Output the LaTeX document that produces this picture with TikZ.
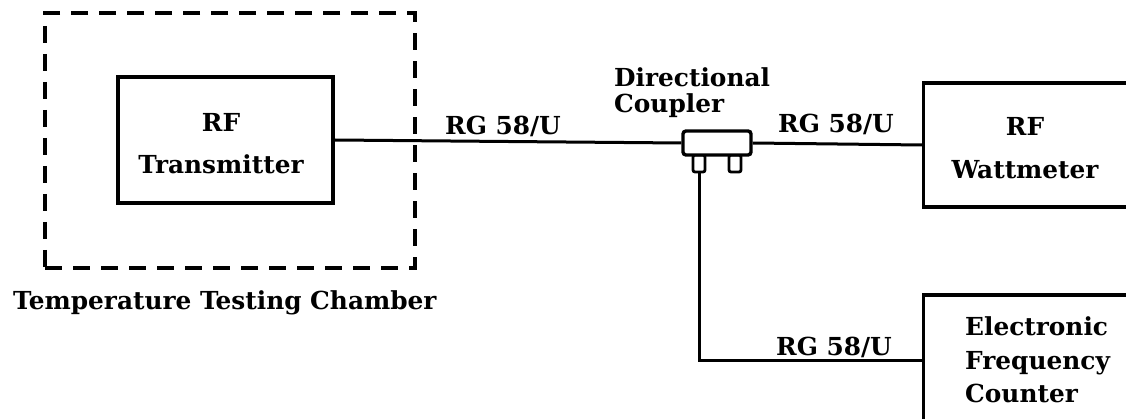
\documentclass[tikz,border=0pt]{standalone}
\usepackage{fontspec}
\setmainfont{DejaVu Serif}
\begin{document}
\begin{tikzpicture}[x=1pt,y=-1pt,
  box/.style={draw, line width=3.4pt, inner sep=0pt},
  wire/.style={line width=3pt},
  chamber/.style={draw, line width=3.2pt, dash pattern=on 17pt off 11pt},
  txt/.style={font=\fontsize{24.8}{28}\selectfont\bfseries, inner sep=0pt},
]
\useasboundingbox (0,0) rectangle (1126,419);
\clip (0,0) rectangle (1126,419);
% chamber
\node[chamber, minimum width=370pt, minimum height=255pt, inner sep=0pt] (ch) at (230,140.5) {};
\node[txt, anchor=base west] (chl) at (13,309) {Temperature Testing Chamber};
% transmitter
\node[box, minimum width=215pt, minimum height=126pt] (tx) at (225.5,140) {};
\node[txt, align=center, font=\fontsize{24.8}{42}\selectfont\bfseries] (txl) at (221,144) {RF\\Transmitter};
% coupler
\node[box, line width=2.8pt, fill=white, minimum width=12pt, minimum height=17pt, rounded corners=2pt] (legL) at (699,163.5) {};
\node[box, line width=2.8pt, fill=white, minimum width=12pt, minimum height=17pt, rounded corners=2pt] (legR) at (735,163.5) {};
\node[box, fill=white, minimum width=68pt, minimum height=24pt, rounded corners=3pt] (cp) at (717,143) {};
\node[txt, align=left, anchor=north west, font=\fontsize{24.8}{26}\selectfont\bfseries] (cpl) at (614,67) {Directional\\Coupler};
% wattmeter
\node[box, minimum width=220pt, minimum height=124pt] (wm) at (1033.5,145) {};
\node[txt, align=center, font=\fontsize{24.8}{43}\selectfont\bfseries] (wml) at (1025,148) {RF\\Wattmeter};
% frequency counter
\node[box, minimum width=220pt, minimum height=130pt] (fc) at (1033.5,360) {};
\node[txt, align=left, anchor=west, font=\fontsize{24.8}{33.5}\selectfont\bfseries] (fcl) at (965,360) {Electronic\\Frequency\\Counter};
% wires
\draw[wire] (tx.east) -- (cp.west);
\draw[wire] (cp.east) -- (wm.west);
\draw[wire] (legL.south) |- (fc.west);
% cable labels
\node[txt, anchor=base west] (rg1) at (445,135) {RG 58/U};
\node[txt, anchor=base west] (rg2) at (778,133) {RG 58/U};
\node[txt, anchor=base west] (rg3) at (776,355) {RG 58/U};
\end{tikzpicture}
\end{document}
